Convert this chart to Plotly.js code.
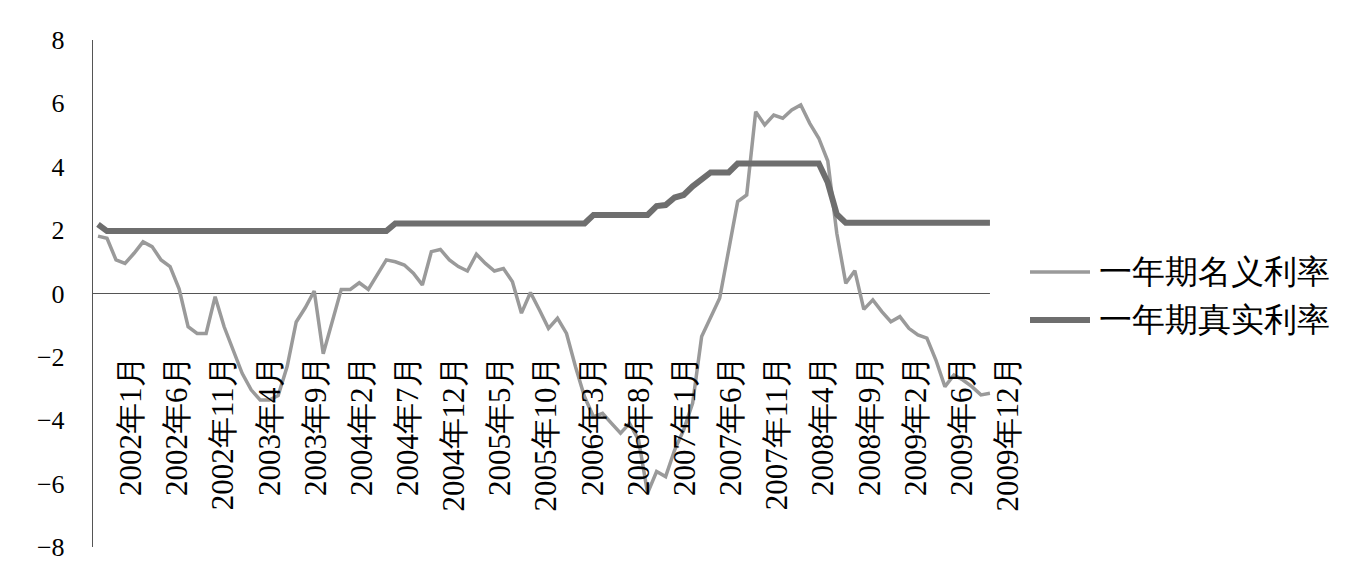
<!DOCTYPE html>
<html>
<head>
<meta charset="utf-8">
<script src="https://cdn.plot.ly/plotly-3.0.1.min.js"></script>
<style>html,body{margin:0;padding:0;background:#fff;}#chart{width:1365px;height:579px;}</style>
</head>
<body>
<div id="chart"></div>
<script>
// Series names (as labelled in the reference legend)
const seriesNames = ["一年期名义利率", "一年期真实利率"];
const seriesColors = ["#9a9a9a", "#6e6e6e"];
const seriesWidths = [3.5, 6];

const nominalRate = [
  1.81, 1.74, 1.06, 0.95, 1.27, 1.63, 1.48, 1.06, 0.85, 0.15,
  -1.05, -1.26, -1.26, -0.10, -1.05, -1.78, -2.52, -3.04, -3.36, -3.36,
  -3.22, -2.30, -0.90, -0.45, 0.08, -1.90, -0.90, 0.13, 0.13, 0.34,
  0.13, 0.62, 1.06, 1.00, 0.90, 0.64, 0.27, 1.32, 1.39, 1.06,
  0.85, 0.71, 1.24, 0.95, 0.71, 0.79, 0.37, -0.62, 0.03, -0.52,
  -1.10, -0.78, -1.26, -2.31, -3.26, -3.89, -3.78, -4.10, -4.41, -4.10,
  -4.62, -6.30, -5.62, -5.78, -4.94, -4.31, -3.46, -1.36, -0.73, -0.15,
  1.37, 2.90, 3.11, 5.74, 5.32, 5.63, 5.53, 5.79, 5.95, 5.37,
  4.90, 4.18, 1.90, 0.32, 0.72, -0.50, -0.20, -0.57, -0.89, -0.73,
  -1.10, -1.31, -1.41, -2.10, -2.94, -2.57, -2.73, -2.94, -3.20, -3.15
];

const realRate = [
  2.18, 1.97, 1.97, 1.97, 1.97, 1.97, 1.97, 1.97, 1.97, 1.97,
  1.97, 1.97, 1.97, 1.97, 1.97, 1.97, 1.97, 1.97, 1.97, 1.97,
  1.97, 1.97, 1.97, 1.97, 1.97, 1.97, 1.97, 1.97, 1.97, 1.97,
  1.97, 1.97, 1.97, 2.21, 2.21, 2.21, 2.21, 2.21, 2.21, 2.21,
  2.21, 2.21, 2.21, 2.21, 2.21, 2.21, 2.21, 2.21, 2.21, 2.21,
  2.21, 2.21, 2.21, 2.21, 2.21, 2.48, 2.48, 2.48, 2.48, 2.48,
  2.48, 2.48, 2.76, 2.79, 3.03, 3.11, 3.38, 3.62, 3.82, 3.82,
  3.82, 4.10, 4.10, 4.10, 4.10, 4.10, 4.10, 4.10, 4.10, 4.10,
  4.10, 3.50, 2.50, 2.23, 2.23, 2.23, 2.23, 2.23, 2.23, 2.23,
  2.23, 2.23, 2.23, 2.23, 2.23, 2.23, 2.23, 2.23, 2.23, 2.23
];

// Category tick labels (as printed on the reference axis)
const tickLabels = [
  "2002年1月", "2002年6月", "2002年11月", "2003年4月", "2003年9月",
  "2004年2月", "2004年7月", "2004年12月", "2005年5月", "2005年10月",
  "2006年3月", "2006年8月", "2007年1月", "2007年6月", "2007年11月",
  "2008年4月", "2008年9月", "2009年2月", "2009年6月", "2009年12月"
];

const yTicks = [-8, -6, -4, -2, 0, 2, 4, 6, 8];

const idx = nominalRate.map((_, i) => i);
const labelStart = 3.66, labelStep = 5.123;
const tickPos = tickLabels.map((_, k) => labelStart + labelStep * k);
const xRange = [-0.555, 101.78];

const serif = "Liberation Serif";

const seriesData = [nominalRate, realRate];
const traces = seriesData.map((vals, s) => ({
  x: idx, y: vals, name: seriesNames[s], type: "scatter", mode: "lines",
  line: {color: seriesColors[s], width: seriesWidths[s]}, showlegend: false
}));

// Hand-built legend (long line samples as in the reference)
const plotL = 93, plotW = 922, plotT = 40, plotH = 507;
const px2x = p => (p - plotL) / plotW;
const px2y = p => 1 - (p - plotT) / plotH;
const legendRows = [272, 320];
const legendShapes = seriesNames.map((n, s) => ({
  type: "line", xref: "paper", yref: "paper",
  x0: px2x(1030), x1: px2x(1090), y0: px2y(legendRows[s]), y1: px2y(legendRows[s]),
  line: {color: seriesColors[s], width: seriesWidths[s]}
}));
const legendText = seriesNames.map((n, s) => ({
  xref: "paper", yref: "paper", x: px2x(1097), y: px2y(legendRows[s]),
  xanchor: "left", yanchor: "middle", text: n, showarrow: false,
  font: {family: serif, size: 33, color: "#000"}
}));

const layout = {
  width: 1365, height: 579,
  font: {family: serif, color: "#000"},
  margin: {l: plotL, r: 1365 - plotL - plotW, t: plotT, b: 579 - plotT - plotH},
  paper_bgcolor: "#ffffff", plot_bgcolor: "#ffffff",
  showlegend: false,
  xaxis: {
    range: xRange, showgrid: false, zeroline: false, showline: false,
    tickmode: "array", tickvals: tickPos, ticktext: tickLabels,
    tickangle: -90, ticks: "",
    anchor: "free", position: 0.39,
    tickfont: {family: serif, size: 31, color: "#000"}
  },
  yaxis: {
    range: [-8, 8], tickmode: "array", tickvals: yTicks,
    showgrid: false, zeroline: false, showline: true, linecolor: "#555", linewidth: 1.2,
    ticks: "", ticklabelstandoff: 22,
    tickfont: {family: serif, size: 26, color: "#000"}
  },
  shapes: [
    {type: "line", xref: "x", yref: "y", x0: xRange[0], x1: idx.length - 1, y0: 0, y1: 0,
     line: {color: "#555", width: 1.2}, layer: "below"}
  ].concat(legendShapes),
  annotations: legendText
};

Plotly.newPlot("chart", traces, layout, {staticPlot: true, displayModeBar: false});
</script>
</body>
</html>
